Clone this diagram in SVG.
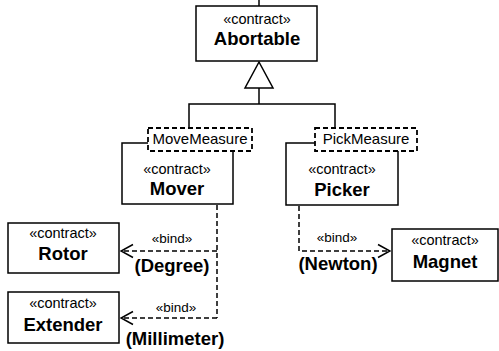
<svg xmlns="http://www.w3.org/2000/svg" width="499" height="351" viewBox="0 0 499 351">
  <style>
    .box { fill: #fff; stroke: #000; stroke-width: 1.5; }
    .tpl { fill: #fff; stroke: #000; stroke-width: 1.8; stroke-dasharray: 5 3; }
    .st { font-family: "Liberation Sans", Arial, sans-serif; font-size: 14.5px; text-anchor: middle; fill: #000; }
    .nm { font-family: "Liberation Sans", Arial, sans-serif; font-size: 18.5px; font-weight: bold; text-anchor: middle; fill: #000; }
    .tp { font-family: "Liberation Sans", Arial, sans-serif; font-size: 15px; text-anchor: middle; fill: #000; }
    .bd { font-family: "Liberation Sans", Arial, sans-serif; font-size: 13.5px; text-anchor: middle; fill: #000; }
    .ln { fill: none; stroke: #000; stroke-width: 1.5; }
    .dl { fill: none; stroke: #000; stroke-width: 1.5; stroke-dasharray: 5 3; }
  </style>
  <defs>
    <marker id="open" markerWidth="14" markerHeight="16" refX="13" refY="8" orient="auto" markerUnits="userSpaceOnUse">
      <path d="M1,1.5 L13,8 L1,14.5" fill="none" stroke="#000" stroke-width="1.5"/>
    </marker>
  </defs>

  <!-- connectors -->
  <g id="connectors">
    <line class="ln" x1="259" y1="0" x2="259" y2="6"/>
    <polyline class="ln" points="189,128 189,104 335,104 335,128"/>
    <line class="ln" x1="259" y1="104" x2="259" y2="88"/>
    <polygon points="259,62 245,88 273,88" fill="#fff" stroke="#000" stroke-width="1.5"/>
    <line class="dl" x1="217" y1="205" x2="217" y2="318"/>
    <line class="dl" x1="217" y1="251" x2="121" y2="251" marker-end="url(#open)"/>
    <line class="dl" x1="217" y1="318" x2="121" y2="318" marker-end="url(#open)"/>
    <polyline class="dl" points="299,206 299,251 390,251" marker-end="url(#open)"/>
    <text class="bd" x="172" y="243">«bind»</text>
    <text class="nm" x="172" y="272">(Degree)</text>
    <text class="bd" x="176" y="312">«bind»</text>
    <text class="nm" x="175" y="345">(Millimeter)</text>
    <text class="bd" x="337" y="242">«bind»</text>
    <text class="nm" x="338" y="270">(Newton)</text>
  </g>

  <g id="abortable">
    <rect class="box" x="196" y="6" width="121" height="55"/>
    <text class="st" x="257" y="24">«contract»</text>
    <text class="nm" x="257" y="45">Abortable</text>
  </g>

  <g id="mover">
    <rect class="box" x="122" y="143" width="111" height="61"/>
    <rect class="tpl" x="148" y="128" width="104" height="23"/>
    <text class="tp" x="200" y="144">MoveMeasure</text>
    <text class="st" x="177" y="174">«contract»</text>
    <text class="nm" x="177" y="195">Mover</text>
  </g>

  <g id="picker">
    <rect class="box" x="286" y="143" width="112" height="62"/>
    <rect class="tpl" x="315" y="128" width="102" height="23"/>
    <text class="tp" x="366" y="144">PickMeasure</text>
    <text class="st" x="342" y="174">«contract»</text>
    <text class="nm" x="342" y="196">Picker</text>
  </g>

  <g id="rotor">
    <rect class="box" x="8" y="223" width="111" height="50"/>
    <text class="st" x="63" y="238">«contract»</text>
    <text class="nm" x="63" y="260">Rotor</text>
  </g>

  <g id="extender">
    <rect class="box" x="8" y="292" width="111" height="51"/>
    <text class="st" x="63" y="308">«contract»</text>
    <text class="nm" x="63" y="331">Extender</text>
  </g>

  <g id="magnet">
    <rect class="box" x="392" y="229" width="106" height="52"/>
    <text class="st" x="445" y="245">«contract»</text>
    <text class="nm" x="445" y="268">Magnet</text>
  </g>
</svg>
